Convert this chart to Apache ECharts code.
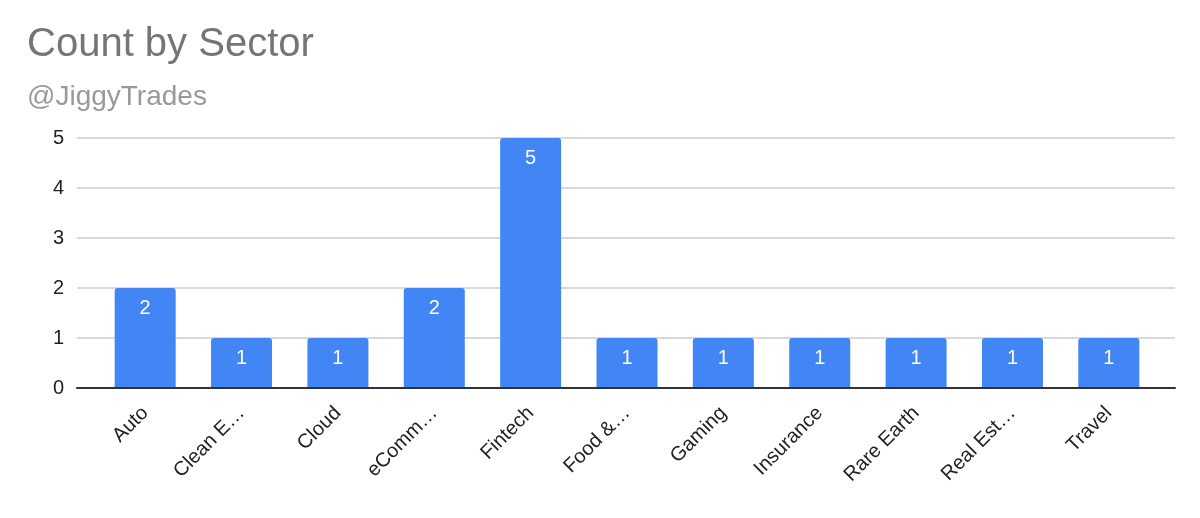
<!DOCTYPE html>
<html>
<head>
<meta charset="utf-8">
<script src="https://cdn.jsdelivr.net/npm/echarts@6/dist/echarts.min.js"></script>
<style>
  html, body { margin: 0; padding: 0; background: #fff; }
  #chart { width: 1200px; height: 518px; }
</style>
</head>
<body>
<div id="chart"></div>
<script>
// 分类（图上显示的就是截断后的名字）
const sectors = ['Auto', 'Clean E…', 'Cloud', 'eComm…', 'Fintech', 'Food &…',
  'Gaming', 'Insurance', 'Rare Earth', 'Real Est…', 'Travel']
const counts = [2, 1, 1, 2, 5, 1, 1, 1, 1, 1, 1]
const yTicks = [0, 1, 2, 3, 4, 5]

const font = '"Liberation Sans", Arial, sans-serif'

var myChart = echarts.init(document.getElementById('chart'))
myChart.setOption({
  animation: false,
  title: {
    text: 'Count by Sector',
    subtext: '@JiggyTrades',
    left: 22,
    top: 20,
    itemGap: 18,
    textStyle: { fontFamily: font, fontSize: 40, fontWeight: 'normal', color: '#757575' },
    subtextStyle: { fontFamily: font, fontSize: 28, color: '#999999' }
  },
  // grid 0: 网格线和坐标轴线，grid 1: 柱子（两边留空）
  grid: [
    { left: 77, right: 25, top: 138, bottom: 130 },
    { left: 97, right: 43, top: 138, bottom: 130 }
  ],
  xAxis: [
    {
      gridIndex: 0,
      type: 'category',
      data: sectors,
      z: 5,
      axisLine: { show: true, lineStyle: { color: '#333333', width: 2 } },
      axisTick: { show: false },
      axisLabel: { show: false },
      splitLine: { show: false }
    },
    {
      gridIndex: 1,
      type: 'category',
      data: sectors,
      axisLine: { show: false },
      axisTick: { show: false },
      axisLabel: {
        rotate: 45,
        margin: 22,
        padding: [0, 0, 0, 0],
        fontFamily: font,
        fontSize: 20,
        color: '#222222',
        interval: 0
      }
    }
  ],
  yAxis: [
    {
      gridIndex: 0,
      type: 'value',
      min: yTicks[0],
      max: yTicks[yTicks.length - 1],
      interval: 1,
      axisLine: { show: false },
      axisTick: { show: false },
      axisLabel: { margin: 13, fontFamily: font, fontSize: 20, color: '#222222' },
      splitLine: { lineStyle: { color: '#cccccc', width: 1.5 } }
    },
    {
      gridIndex: 1,
      type: 'value',
      min: yTicks[0],
      max: yTicks[yTicks.length - 1],
      show: false,
      splitLine: { show: false }
    }
  ],
  series: [
    {
      type: 'bar',
      xAxisIndex: 1,
      yAxisIndex: 1,
      data: counts,
      barWidth: 61,
      itemStyle: { color: '#4285F4', borderRadius: [3, 3, 0, 0] },
      label: {
        show: true,
        position: 'insideTop',
        distance: 10,
        fontFamily: font,
        fontSize: 20,
        color: '#ffffff'
      }
    }
  ]
})
</script>
</body>
</html>
